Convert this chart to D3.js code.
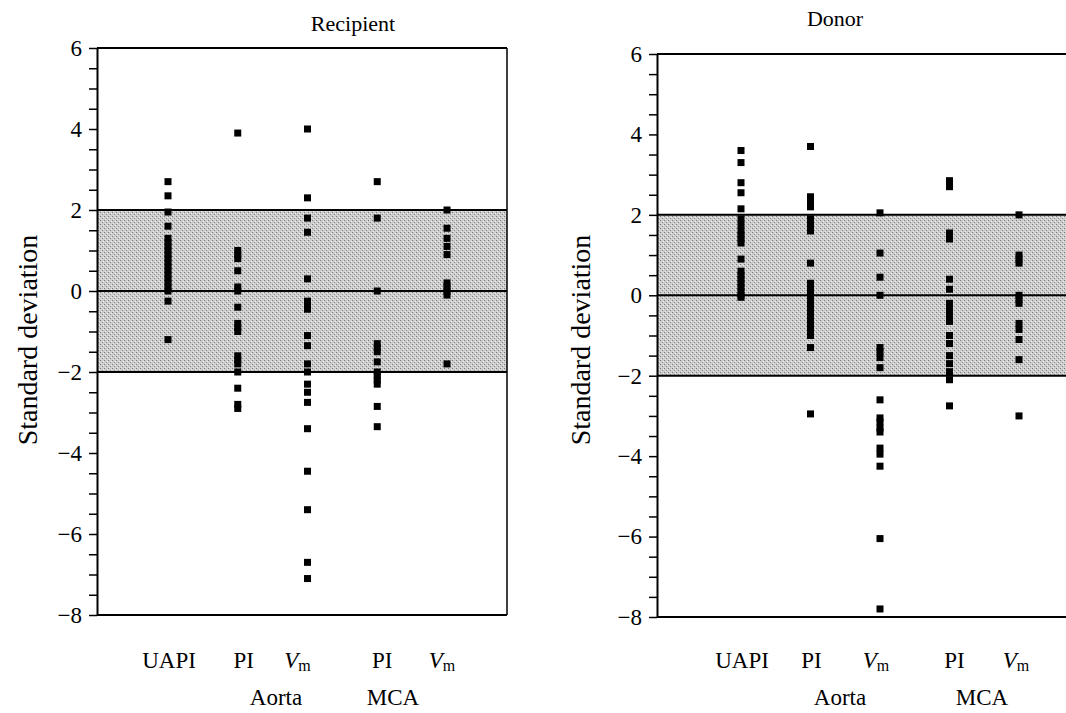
<!DOCTYPE html>
<html><head><meta charset="utf-8">
<script src="https://cdn.jsdelivr.net/npm/d3@7"></script>
<style>body{margin:0;background:#fff} svg{display:block} text{font-family:'Liberation Serif','Times New Roman',serif}</style>
</head><body>
<svg id="chart" width="1066" height="713"></svg>
<script>
// ---- data ----
const categories = ["UAPI", "Aorta PI", "Aorta Vm", "MCA PI", "MCA Vm"];
const yTicks = [6, 4, 2, 0, -2, -4, -6, -8];
const bandLimits = [-2, 2];
const refLines = [2, 0, -2];

const recipientUAPI = [2.7, 2.35, 1.95, 1.6, 1.3, 1.2, 1.1, 1.0, 0.9, 0.8, 0.7, 0.6, 0.5, 0.4, 0.3, 0.2, 0.1, 0.0, -0.25, -1.2];
const recipientAortaPI = [3.9, 1.0, 0.9, 0.8, 0.5, 0.1, 0.0, -0.4, -0.8, -0.9, -1.0, -1.6, -1.7, -1.8, -2.0, -2.4, -2.8, -2.9];
const recipientAortaVm = [4.0, 2.3, 1.8, 1.45, 0.3, -0.25, -0.35, -0.45, -1.1, -1.35, -1.8, -2.0, -2.3, -2.5, -2.75, -3.4, -4.45, -5.4, -6.7, -7.1];
const recipientMCAPI = [2.7, 1.8, 0.0, -1.3, -1.4, -1.5, -1.75, -2.0, -2.1, -2.2, -2.3, -2.85, -3.35];
const recipientMCAVm = [2.0, 1.55, 1.3, 1.1, 0.9, 0.2, 0.1, 0.0, -0.1, -1.8];

const donorUAPI = [3.6, 3.3, 2.8, 2.55, 2.15, 1.9, 1.75, 1.6, 1.5, 1.4, 1.3, 0.9, 0.6, 0.5, 0.4, 0.3, 0.2, 0.1, 0.0, -0.05];
const donorAortaPI = [3.7, 2.45, 2.3, 2.2, 1.9, 1.75, 1.6, 0.8, 0.3, 0.2, 0.1, 0.0, -0.1, -0.2, -0.3, -0.4, -0.5, -0.6, -0.7, -0.8, -0.9, -1.0, -1.3, -2.95];
const donorAortaVm = [2.05, 1.05, 0.45, 0.0, -1.3, -1.4, -1.55, -1.8, -2.6, -3.05, -3.15, -3.3, -3.4, -3.8, -3.95, -4.25, -6.05, -7.8];
const donorMCAPI = [2.85, 2.7, 1.55, 1.4, 0.4, 0.15, -0.2, -0.35, -0.5, -0.65, -1.0, -1.2, -1.5, -1.7, -1.9, -2.1, -2.75];
const donorMCAVm = [2.0, 1.0, 0.9, 0.8, 0.0, -0.1, -0.2, -0.7, -0.85, -1.1, -1.6, -3.0];

const recipientSeries = [recipientUAPI, recipientAortaPI, recipientAortaVm, recipientMCAPI, recipientMCAVm];
const donorSeries = [donorUAPI, donorAortaPI, donorAortaVm, donorMCAPI, donorMCAVm];

// ---- layout ----
const FONT = "'Liberation Serif','Times New Roman',serif";
const panels = [
  {title: "Recipient", series: recipientSeries, x0: 97, x1: 507, top: 48, bottom: 615,
   c0: 168, c1: 447, rightBorder: true, titleX: 353, titleY: 31, ylabX: 37, ylabY: 340,
   labOff: [1, 6, -10, 5, -5], groupX: [276, 393]},
  {title: "Donor", series: donorSeries, x0: 657, x1: 1072, top: 54, bottom: 617,
   c0: 741, c1: 1019, rightBorder: false, titleX: 835, titleY: 26, ylabX: 590, ylabY: 340,
   labOff: [1, 1, -4, 5, -3], groupX: [840, 982]}
];

const svg = d3.select("#chart");
svg.append("rect").attr("width", 1066).attr("height", 713).attr("fill", "#fff");

// stipple pattern for the band
const defs = svg.append("defs");
const pat = defs.append("pattern").attr("id", "stip").attr("width", 4).attr("height", 4)
  .attr("patternUnits", "userSpaceOnUse");
pat.append("rect").attr("width", 4).attr("height", 4).attr("fill", "#cccccc");
pat.append("rect").attr("x", 0).attr("y", 0).attr("width", 1).attr("height", 1).attr("fill", "#7a7a7a");
pat.append("rect").attr("x", 2).attr("y", 2).attr("width", 1).attr("height", 1).attr("fill", "#8c8c8c");
pat.append("rect").attr("x", 3).attr("y", 1).attr("width", 1).attr("height", 1).attr("fill", "#eeeeee");
pat.append("rect").attr("x", 1).attr("y", 3).attr("width", 1).attr("height", 1).attr("fill", "#e6e6e6");

panels.forEach(p => {
  const g = svg.append("g");
  const y = d3.scaleLinear().domain([-8, 6]).range([p.bottom, p.top]);
  const x = d3.scalePoint().domain(categories).range([p.c0, p.c1]);

  // band
  g.append("rect").attr("x", p.x0).attr("width", p.x1 - p.x0)
    .attr("y", y(bandLimits[1])).attr("height", y(bandLimits[0]) - y(bandLimits[1]))
    .attr("fill", "url(#stip)");

  // reference lines
  g.selectAll(".ref").data(refLines).join("line")
    .attr("x1", p.x0).attr("x2", p.x1).attr("y1", d => y(d)).attr("y2", d => y(d))
    .attr("stroke", "#000").attr("stroke-width", 2);

  // frame
  g.append("line").attr("x1", p.x0).attr("x2", p.x1).attr("y1", p.top).attr("y2", p.top)
    .attr("stroke", "#000").attr("stroke-width", 2);
  g.append("line").attr("x1", p.x0).attr("x2", p.x1).attr("y1", p.bottom).attr("y2", p.bottom)
    .attr("stroke", "#000").attr("stroke-width", 2);
  if (p.rightBorder) {
    g.append("line").attr("x1", p.x1).attr("x2", p.x1).attr("y1", p.top).attr("y2", p.bottom)
      .attr("stroke", "#000").attr("stroke-width", 1.5);
  }

  // y axis
  const minor = d3.range(-8, 6.001, 0.5);
  const ax = g.append("g").attr("transform", `translate(${p.x0},0)`)
    .call(d3.axisLeft(y).tickValues(minor).tickSize(8).tickSizeOuter(0).tickPadding(7)
      .tickFormat(d => yTicks.includes(d) ? d3.format("d")(d) : ""));
  ax.attr("font-family", FONT);
  ax.select(".domain").attr("stroke-width", 2);
  ax.selectAll(".tick line").attr("stroke-width", 1.5);
  ax.selectAll("text").style("font-family", FONT).attr("font-size", 23).attr("fill", "#000");

  // points
  p.series.forEach((vals, i) => {
    g.selectAll(null).data(vals).join("rect")
      .attr("x", x(categories[i]) - 3.5).attr("y", d => y(d) - 3.5)
      .attr("width", 7).attr("height", 7).attr("fill", "#000");
  });

  // title
  g.append("text").attr("x", p.titleX).attr("y", p.titleY).attr("text-anchor", "middle")
    .attr("font-family", FONT).attr("font-size", 22).text(p.title);

  // y label
  g.append("text").attr("transform", `translate(${p.ylabX},${p.ylabY}) rotate(-90)`)
    .attr("text-anchor", "middle").attr("font-family", FONT).attr("font-size", 28)
    .text("Standard deviation");

  // category labels
  const row1 = 668, row2 = 705;
  const labs = [{t: "UAPI"}, {t: "PI"}, {t: "Vm", v: true}, {t: "PI"}, {t: "Vm", v: true}];
  labs.forEach((l, i) => {
    const t = g.append("text").attr("x", x(categories[i]) + p.labOff[i]).attr("y", row1)
      .attr("text-anchor", "middle").attr("font-family", FONT).attr("font-size", 23);
    if (l.v) {
      t.append("tspan").attr("font-style", "italic").text("V");
      t.append("tspan").attr("font-size", 16).attr("dy", 3).text("m");
    } else t.text(l.t);
  });
  ["Aorta", "MCA"].forEach((s, i) => {
    g.append("text").attr("x", p.groupX[i]).attr("y", row2).attr("text-anchor", "middle")
      .attr("font-family", FONT).attr("font-size", 23).text(s);
  });
});
</script>
</body></html>
